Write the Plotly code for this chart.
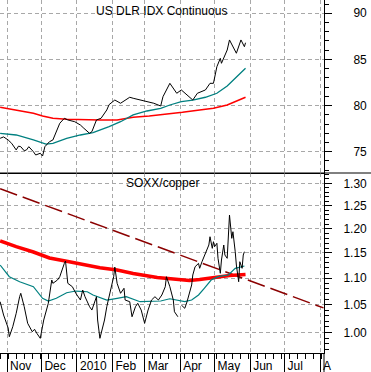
import plotly.graph_objects as go

# ---------------- Top panel: US Dollar Index (continuous) ----------------
usd_dates = ['2009-10-26', '2009-10-29', '2009-11-02', '2009-11-05', '2009-11-09', '2009-11-11',
             '2009-11-13', '2009-11-16', '2009-11-18', '2009-11-20', '2009-11-24', '2009-11-26',
             '2009-11-30', '2009-12-02', '2009-12-04', '2009-12-08', '2009-12-11', '2009-12-14',
             '2009-12-17', '2009-12-21', '2009-12-24', '2009-12-30', '2010-01-04', '2010-01-07',
             '2010-01-12', '2010-01-14', '2010-01-18', '2010-01-22', '2010-01-27', '2010-01-29',
             '2010-02-03', '2010-02-08', '2010-02-12', '2010-02-16', '2010-02-19', '2010-02-25',
             '2010-03-03', '2010-03-09', '2010-03-15', '2010-03-17', '2010-03-23', '2010-03-29',
             '2010-04-02', '2010-04-09', '2010-04-12', '2010-04-16', '2010-04-23', '2010-04-27',
             '2010-04-30', '2010-05-03', '2010-05-06', '2010-05-07', '2010-05-12', '2010-05-14',
             '2010-05-19', '2010-05-20', '2010-05-24', '2010-05-27', '2010-05-28']
usd_close = [76.45, 76.60, 76.27, 75.91, 75.19, 75.60, 75.54, 75.10, 75.19, 75.54, 75.00, 74.64,
             74.83, 74.53, 75.54, 76.08, 76.27, 77.17, 78.08, 78.62, 78.44, 78.25, 77.89, 77.54,
             76.99, 77.17, 78.44, 78.62, 79.52, 80.10, 80.60, 80.25, 80.60, 80.90, 80.79, 80.60,
             80.42, 80.25, 79.95, 80.96, 82.41, 81.33, 81.69, 80.96, 80.60, 81.33, 81.69, 82.41,
             82.41, 84.21, 85.12, 84.58, 86.02, 87.11, 86.02, 85.67, 87.11, 86.38, 86.81]

usd_ma50_dates = ['2009-10-26', '2009-11-09', '2009-11-24', '2009-12-05', '2009-12-11', '2009-12-23',
                  '2010-01-04', '2010-01-15', '2010-01-29', '2010-02-08', '2010-02-19', '2010-03-03',
                  '2010-03-15', '2010-03-23', '2010-04-02', '2010-04-12', '2010-04-23', '2010-05-03',
                  '2010-05-12', '2010-05-20', '2010-05-28']
usd_ma50 = [76.99, 76.81, 76.27, 75.83, 75.91, 76.45, 76.81, 77.06, 77.71, 78.25, 78.98, 79.41,
            79.70, 80.06, 80.42, 80.60, 80.90, 81.33, 82.12, 83.13, 84.04]

usd_ma200_dates = ['2009-10-26', '2009-11-09', '2009-11-24', '2009-12-02', '2009-12-11', '2009-12-23',
                   '2010-01-06', '2010-01-21', '2010-02-05', '2010-02-19', '2010-03-05', '2010-03-20',
                   '2010-04-03', '2010-04-18', '2010-04-30', '2010-05-12', '2010-05-20', '2010-05-28']
usd_ma200 = [79.81, 79.52, 79.16, 78.87, 78.62, 78.51, 78.44, 78.44, 78.44, 78.73, 78.87, 79.05,
             79.27, 79.52, 79.70, 80.06, 80.49, 80.90]

# ---------------- Bottom panel: SOXX / copper ratio ----------------
ratio_dates = ['2009-10-26', '2009-10-29', '2009-11-02', '2009-11-03', '2009-11-06', '2009-11-09',
               '2009-11-12', '2009-11-13', '2009-11-16', '2009-11-19', '2009-11-23', '2009-11-25',
               '2009-11-27', '2009-11-30', '2009-12-03', '2009-12-07', '2009-12-10', '2009-12-11',
               '2009-12-15', '2009-12-17', '2009-12-21', '2009-12-22', '2009-12-24', '2009-12-28',
               '2009-12-31', '2010-01-04', '2010-01-06', '2010-01-08', '2010-01-12', '2010-01-14',
               '2010-01-18', '2010-01-19', '2010-01-21', '2010-01-25', '2010-01-27', '2010-01-29',
               '2010-02-02', '2010-02-03', '2010-02-05', '2010-02-08', '2010-02-11', '2010-02-12',
               '2010-02-16', '2010-02-18', '2010-02-21', '2010-02-23', '2010-02-26', '2010-03-01',
               '2010-03-04', '2010-03-07', '2010-03-10', '2010-03-13', '2010-03-16', '2010-03-19',
               '2010-03-20', '2010-03-23', '2010-03-26', '2010-03-27', '2010-03-30', '2010-03-31',
               '2010-04-02', '2010-04-05', '2010-04-07', '2010-04-09', '2010-04-11', '2010-04-12',
               '2010-04-14', '2010-04-17', '2010-04-18', '2010-04-20', '2010-04-22', '2010-04-24',
               '2010-04-26', '2010-04-27', '2010-04-29', '2010-04-30', '2010-05-01', '2010-05-03',
               '2010-05-04', '2010-05-06', '2010-05-07', '2010-05-09', '2010-05-10', '2010-05-12',
               '2010-05-13', '2010-05-14', '2010-05-16', '2010-05-17', '2010-05-19', '2010-05-20',
               '2010-05-22', '2010-05-23', '2010-05-25', '2010-05-26', '2010-05-27']
ratio = [1.0554, 1.0309, 1.0076, 0.9923, 1.0099, 1.0340, 1.0647, 1.0711, 1.0461, 1.0160, 1.0010, 1.0053,
         0.9982, 0.9895, 1.0219, 1.0524, 1.0965, 1.0901, 1.0965, 1.1029, 1.1292, 1.1338, 1.0901, 1.0836,
         1.0711, 1.0585, 1.0773, 1.0647, 1.0461, 1.0400, 1.0647, 1.0219, 0.9895, 1.0219, 1.0461, 1.0647,
         1.1029, 1.1218, 1.0901, 1.0711, 1.0806, 1.0585, 1.0554, 1.0278, 1.0461, 1.0524, 1.0400, 1.0160,
         1.0400, 1.0585, 1.0647, 1.0585, 1.0679, 1.0836, 1.1029, 1.0836, 1.0585, 1.0369, 1.0278, None,
         1.0492, 1.0432, 1.0554, 1.0711, 1.0869, 1.1062, 1.1224, 1.1291, 1.1193, 1.1324, 1.1424, 1.1525,
         1.1662, 1.1833, 1.1594, 1.1730, 1.1628, 1.1697, 1.1392, 1.1095, 1.1358, 1.1662, 1.1458, 1.1392,
         1.1869, 1.2294, 1.1800, 1.1938, 1.1525, 1.1258, 1.0932, 1.1324, 1.1193, 1.1458, 1.1525]

ratio_ma50_dates = ['2009-10-26', '2009-11-03', '2009-11-12', '2009-11-24', '2009-12-02', '2009-12-07',
                    '2009-12-14', '2009-12-23', '2009-12-31', '2010-01-10', '2010-01-15', '2010-01-27',
                    '2010-02-05', '2010-02-13', '2010-02-25', '2010-03-15', '2010-03-23', '2010-03-30',
                    '2010-04-05', '2010-04-11', '2010-04-17', '2010-04-22', '2010-04-28', '2010-05-04',
                    '2010-05-13', '2010-05-19', '2010-05-27']
ratio_ma50 = [1.1258, 1.1029, 1.0932, 1.0836, 1.0617, 1.0567, 1.0617, 1.0722, 1.0754, 1.0741, 1.0679,
              1.0585, 1.0617, 1.0647, 1.0554, 1.0567, 1.0609, 1.0585, 1.0554, 1.0585, 1.0679, 1.0806,
              1.0965, 1.1029, 1.1062, 1.1193, 1.1238]

ratio_ma200_dates = ['2009-10-26', '2009-11-09', '2009-11-24', '2009-12-08', '2009-12-23', '2010-01-06',
                     '2010-01-21', '2010-02-05', '2010-02-19', '2010-03-12', '2010-04-01', '2010-04-09',
                     '2010-04-18', '2010-04-30', '2010-05-14', '2010-05-28']
ratio_ma200 = [1.1748, 1.1627, 1.1519, 1.1398, 1.1332, 1.1268, 1.1205, 1.1160, 1.1091, 1.1013, 1.0965,
               1.0955, 1.0974, 1.1013, 1.1052, 1.1071]

trend_dates = ['2009-10-26', '2010-08-04']
trend_vals = [1.2877, 1.0439]

# ---------------- Axes ----------------
month_ticks = ['2009-11-01', '2009-12-01', '2010-01-01', '2010-02-01', '2010-03-01', '2010-04-01',
               '2010-05-01', '2010-06-01', '2010-07-01', '2010-08-01']
month_labels = ['Nov', 'Dec', '2010', 'Feb', 'Mar', 'Apr', 'May', 'Jun', 'Jul', 'A']
usd_ticks = [75, 80, 85, 90]
ratio_ticks = [1.00, 1.05, 1.10, 1.15, 1.20, 1.25, 1.30]
ratio_minor = [round(0.96 + 0.01 * i, 2) for i in range(37)]
x_range = ['2009-10-25 21:00', '2010-08-04 10:00']

FONT = 'Liberation Sans, Arial, sans-serif'
GRID = '#A8A8A8'
TEAL = '#008080'
RED = '#FF0000'
DKRED = '#8B0000'

W, H = 371, 372
ML, MR, MT, MB = 0, 47, 0, 19
PH = H - MT - MB
split = 1 - 173 / PH

fig = go.Figure()
fig.add_trace(go.Scatter(x=usd_ma200_dates, y=usd_ma200, mode='lines',
                         line=dict(color=RED, width=1.6), xaxis='x', yaxis='y'))
fig.add_trace(go.Scatter(x=usd_ma50_dates, y=usd_ma50, mode='lines',
                         line=dict(color=TEAL, width=1.3), xaxis='x', yaxis='y'))
fig.add_trace(go.Scatter(x=usd_dates, y=usd_close, mode='lines',
                         line=dict(color='black', width=1), xaxis='x', yaxis='y'))

fig.add_trace(go.Scatter(x=trend_dates, y=trend_vals, mode='lines',
                         line=dict(color=DKRED, width=1.5, dash='18px,6px'), xaxis='x2', yaxis='y2'))
fig.add_trace(go.Scatter(x=ratio_ma200_dates, y=ratio_ma200, mode='lines',
                         line=dict(color=RED, width=3.5), xaxis='x2', yaxis='y2'))
fig.add_trace(go.Scatter(x=ratio_ma50_dates, y=ratio_ma50, mode='lines',
                         line=dict(color=TEAL, width=1.2), xaxis='x2', yaxis='y2'))
fig.add_trace(go.Scatter(x=ratio_dates, y=ratio, mode='lines', connectgaps=False,
                         line=dict(color='black', width=1), xaxis='x2', yaxis='y2'))

tickfont = dict(family=FONT, size=12, color='black')

fig.update_layout(
    width=W, height=H,
    margin=dict(l=ML, r=MR, t=MT, b=MB, pad=0),
    paper_bgcolor='white', plot_bgcolor='white',
    showlegend=False,
    hovermode=False,
    font=dict(family=FONT, size=12, color='black'),
    xaxis=dict(domain=[0, 1], anchor='y', type='date', range=x_range, matches='x2',
               tickmode='array', tickvals=month_ticks, showticklabels=False, ticks='',
               showgrid=True, gridcolor=GRID, griddash='4px,3px', gridwidth=1,
               showline=True, linecolor='black', linewidth=1, zeroline=False),
    xaxis2=dict(domain=[0, 1], anchor='y2', type='date', range=x_range,
                tickmode='array', tickvals=month_ticks, ticktext=month_labels,
                ticks='outside', ticklen=19, tickwidth=1, tickcolor='black',
                ticklabelposition='outside right', ticklabelstandoff=2, ticklabelshift=2,
                tickfont=tickfont,
                minor=dict(dtick=7 * 86400000, tick0='2009-11-02', ticks='outside', ticklen=5,
                           tickcolor='black', tickwidth=1, showgrid=False),
                showgrid=True, gridcolor=GRID, griddash='4px,3px', gridwidth=1,
                showline=True, linecolor='black', linewidth=1, zeroline=False),
    yaxis=dict(domain=[split, 1], anchor='x', side='right', range=[72.69, 91.44],
               tickmode='array', tickvals=usd_ticks, ticks='outside', ticklen=7,
               tickcolor='black', tickfont=tickfont, ticklabelstandoff=19,
               minor=dict(dtick=1, ticks='outside', ticklen=4, tickcolor='black', showgrid=False),
               showgrid=True, gridcolor=GRID, griddash='4px,3px', gridwidth=1,
               showline=True, linecolor='black', linewidth=1, zeroline=False),
    yaxis2=dict(domain=[0, split], anchor='x2', side='right', type='log',
                range=[-0.01583, 0.12185],
                tickmode='array', tickvals=ratio_ticks,
                ticktext=['%.2f' % v for v in ratio_ticks], ticks='outside', ticklen=7,
                tickcolor='black', tickfont=tickfont, ticklabelstandoff=9,
                minor=dict(tickmode='array', tickvals=ratio_minor, ticks='outside', ticklen=4,
                           tickcolor='black', showgrid=False),
                showgrid=True, gridcolor=GRID, griddash='4px,3px', gridwidth=1,
                showline=True, linecolor='black', linewidth=1, zeroline=False),
    annotations=[
        dict(text='US DLR IDX Continuous', xref='paper', yref='paper',
             x=161 / 324, y=1 - 11 / PH, xanchor='center', yanchor='middle',
             showarrow=False, font=dict(family=FONT, size=12, color='black')),
        dict(text='SOXX/copper', xref='paper', yref='paper',
             x=162 / 324, y=1 - 183 / PH, xanchor='center', yanchor='middle',
             showarrow=False, font=dict(family=FONT, size=12, color='black')),
    ],
    shapes=[
        dict(type='line', xref='paper', yref='paper', x0=0, x1=W / 324, y0=split, y1=split,
             line=dict(color='black', width=1)),
        dict(type='line', xref='paper', yref='paper', x0=1, x1=1, y0=0, y1=-MB / PH,
             line=dict(color='black', width=1)),
    ],
)

fig.write_html('out.html', config={'displayModeBar': False, 'staticPlot': True},
               post_script="document.body.style.margin='0';document.body.style.overflow='hidden';")
